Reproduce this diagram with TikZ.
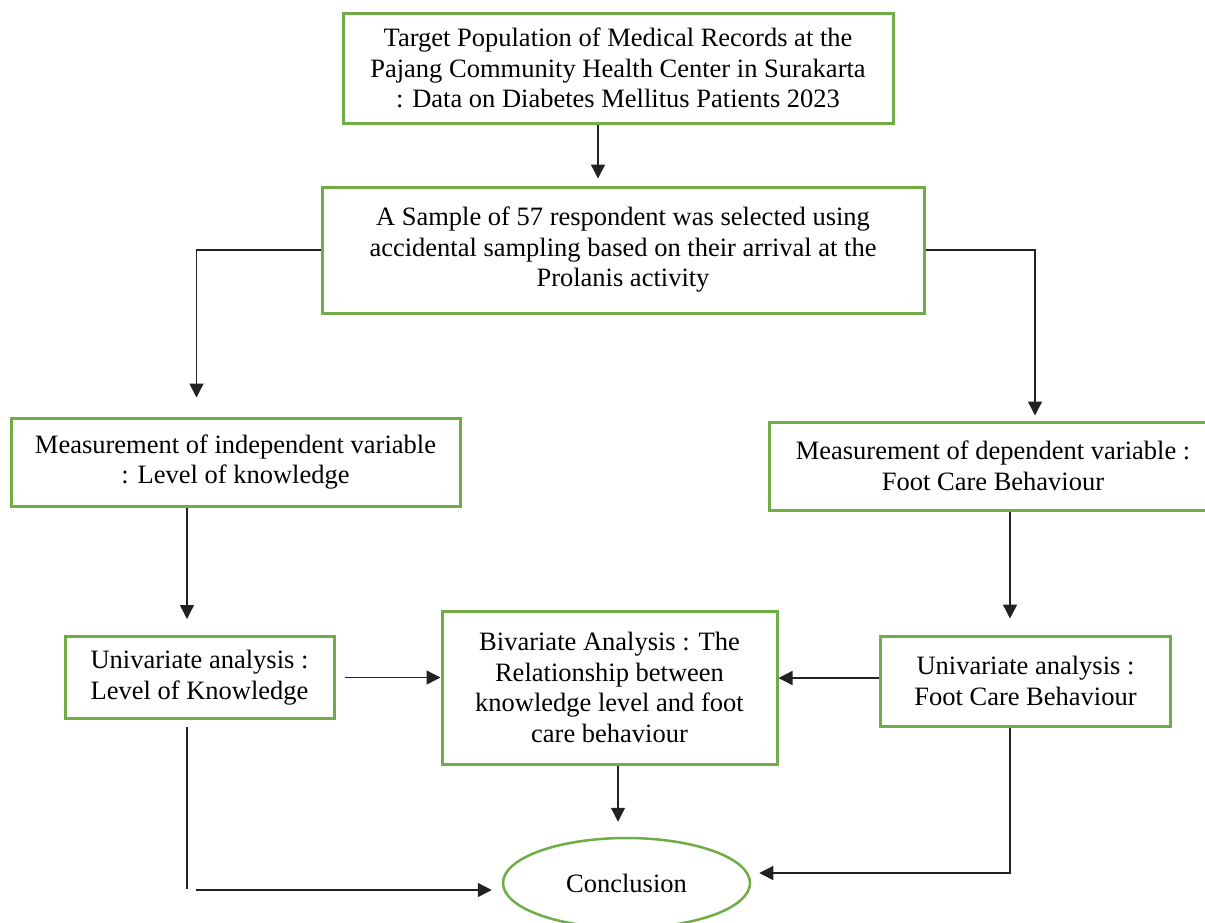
\documentclass[tikz,border=0pt]{standalone}
\usepackage{fontspec}
\setmainfont{Liberation Serif}
\usetikzlibrary{arrows.meta,shapes.geometric}
\definecolor{boxgreen}{HTML}{70AD47}
\definecolor{linedark}{HTML}{222222}
\tikzset{
  box/.style={draw=boxgreen, line width=3pt, align=center, inner sep=0pt,
    font={\fontsize{26.5}{30.5}\selectfont}},
  arr/.style={draw=linedark, line width=1.4pt, -{Triangle[length=14pt,width=14pt]}},
  plain/.style={draw=linedark, line width=1.4pt},
}
\begin{document}
\begin{tikzpicture}[x=1pt,y=-1pt]
\useasboundingbox (0,0) rectangle (1205,922);
\clip (0,0) rectangle (1205,922);
\node[box, minimum width=550, minimum height=110] (b1) at (618,68)
  {Target Population of Medical Records at the\\Pajang Community Health Center in Surakarta\\: Data on Diabetes Mellitus Patients 2023};
\node[box, minimum width=602, minimum height=126] (b2) at (623,250)
  {A Sample of 57 respondent was selected using\\accidental sampling based on their arrival at the\\Prolanis activity};
\node[box, minimum width=449, minimum height=88] (b3) at (235.5,462)
  {Measurement of independent variable\\: Level of knowledge};
\node[box, minimum width=448, minimum height=88] (b4) at (993,466)
  {Measurement of dependent variable :\\Foot Care Behaviour};
\node[box, minimum width=269, minimum height=82] (b5) at (199.5,677.5)
  {Univariate analysis :\\Level of Knowledge};
\node[box, minimum width=335, minimum height=153] (b6) at (609.5,687.5)
  {Bivariate Analysis : The\\Relationship between\\knowledge level and foot\\care behaviour};
\node[box, minimum width=290, minimum height=90] (b7) at (1025.5,681)
  {Univariate analysis :\\Foot Care Behaviour};
\node[box, ellipse, line width=2.5pt, minimum width=247, minimum height=90] (cc) at (626.5,883)
  {Conclusion};
\coordinate (lc1) at (187,889);
\coordinate (lc2) at (196,890);
% connectors
\draw[arr, shorten >=7pt] ([xshift=-20pt]b1.south) -- ([xshift=-25pt]b2.north);
\draw[arr, shorten >=19pt] (b2.west) -| ([xshift=-39pt]b3.north);
\draw[arr, shorten >=5pt] (b2.east) -| ([xshift=42pt]b4.north);
\draw[arr, shorten >=16pt] ([xshift=-48.5pt]b3.south) -- ([xshift=-12.5pt]b5.north);
\draw[arr, shorten >=16pt] ([xshift=17pt]b4.south) -- ([xshift=-15.5pt]b7.north);
\draw[arr, shorten <=9pt] (b5.east) -- (b5.east -| b6.west);
\draw[arr] ([yshift=3pt]b7.west) -- ([yshift=3pt]b7.west -| b6.east);
\draw[arr, shorten >=15pt] ([xshift=8.5pt]b6.south) -- ([xshift=-8.5pt]cc.north);
\draw[arr, shorten >=8pt] ([xshift=-15.5pt]b7.south) |- ([yshift=10pt]cc.east);
\draw[plain, shorten <=7pt] ([xshift=-12.5pt]b5.south) -- (lc1);
\draw[arr, shorten >=10pt] (lc2) -- (lc2 -| cc.west);
\end{tikzpicture}
\end{document}
